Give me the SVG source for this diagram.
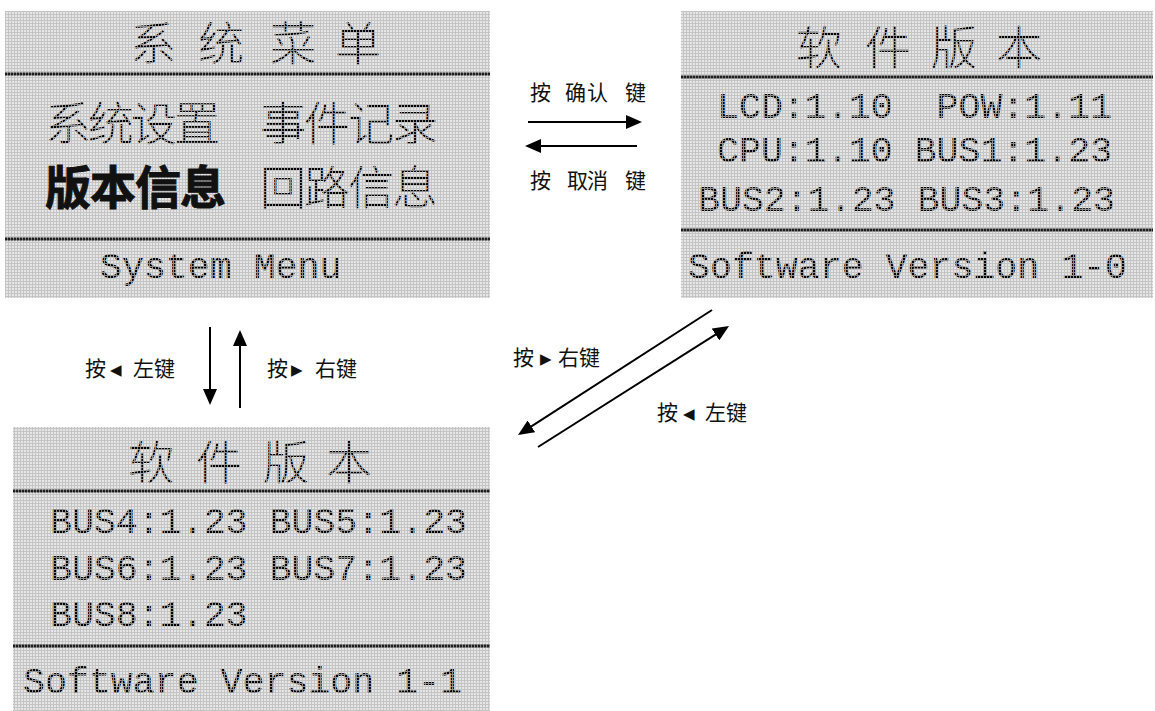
<svg xmlns="http://www.w3.org/2000/svg" width="1155" height="711" viewBox="0 0 1155 711">
<defs>
<pattern id="lcd" x="0" y="0" width="3" height="3" patternUnits="userSpaceOnUse">
<rect width="3" height="3" fill="#e6e6e6"/>
<rect x="2" width="1" height="3" fill="#c4c4c4"/>
<rect y="2" width="3" height="1" fill="#c4c4c4"/>
</pattern>
<pattern id="dots" x="0" y="0" width="3" height="3" patternUnits="userSpaceOnUse">
<rect width="3" height="3" fill="#8a8a8a"/>
<rect width="2" height="2" fill="#000"/>
</pattern>
<marker id="ah" viewBox="0 0 16 14" refX="13" refY="7" markerWidth="16" markerHeight="14" markerUnits="userSpaceOnUse" orient="auto">
<path d="M0,0 L16,7 L0,14 z" fill="#000"/>
</marker>
</defs>
<style>
.panel{fill:url(#lcd)}
.sep{stroke:#1e1e1e;stroke-width:3;stroke-dasharray:2.5 0.5}
.cjk{font-family:"Noto Sans CJK SC",sans-serif;font-size:46px;font-weight:300;fill:url(#dots)}
.hl{font-weight:bold;fill:#111;stroke:#111;stroke-width:1}
.mono{font-family:"Liberation Mono",monospace;font-size:36.6px;fill:url(#dots)}
.lbl{font-family:"Noto Sans CJK SC",sans-serif;font-size:21px;fill:#111}
.tri{font-family:"DejaVu Sans",sans-serif;font-size:15px}
.conn{stroke:#000;stroke-width:2;fill:none;marker-end:url(#ah)}
</style>
<rect width="1155" height="711" fill="#fff"/>

<g id="panel-system-menu">
<rect class="panel" x="5" y="11" width="485" height="287"/>
<text class="cjk" x="130 198 270 335" y="60">系统菜单</text>
<line class="sep" x1="5" y1="74" x2="490" y2="74"/>
<text class="cjk" x="45 88 131 174" y="140">系统设置</text>
<text class="cjk" x="260 304 348 392" y="140">事件记录</text>
<text class="cjk hl" x="45 90 135 180" y="204">版本信息</text>
<text class="cjk" x="260 304 348 392" y="204">回路信息</text>
<line class="sep" x1="5" y1="239" x2="490" y2="239"/>
<text class="mono" x="100" y="278">System Menu</text>
</g>

<g id="panel-software-version-1-0">
<rect class="panel" x="681" y="11" width="472" height="287"/>
<text class="cjk" x="796 865 931 996" y="64">软件版本</text>
<line class="sep" x1="681" y1="77" x2="1153" y2="77"/>
<text class="mono" x="717" y="118" xml:space="preserve">LCD:1.10  POW:1.11</text>
<text class="mono" x="717" y="162">CPU:1.10 BUS1:1.23</text>
<text class="mono" x="698" y="211">BUS2:1.23 BUS3:1.23</text>
<line class="sep" x1="681" y1="230" x2="1153" y2="230"/>
<text class="mono" x="688" y="278">Software Version 1-0</text>
</g>

<g id="panel-software-version-1-1">
<rect class="panel" x="13" y="427" width="477" height="284"/>
<text class="cjk" x="128 196 263 326" y="479">软件版本</text>
<line class="sep" x1="13" y1="491" x2="490" y2="491"/>
<text class="mono" x="50" y="533">BUS4:1.23 BUS5:1.23</text>
<text class="mono" x="50" y="580">BUS6:1.23 BUS7:1.23</text>
<text class="mono" x="50" y="626">BUS8:1.23</text>
<line class="sep" x1="13" y1="646" x2="490" y2="646"/>
<text class="mono" x="23" y="693">Software Version 1-1</text>
</g>

<g id="connectors">
<line class="conn" x1="528" y1="122" x2="639" y2="122"/>
<line class="conn" x1="637" y1="146" x2="528" y2="146"/>
<line class="conn" x1="210" y1="327" x2="210" y2="402"/>
<line class="conn" x1="240" y1="408" x2="240" y2="333"/>
<line class="conn" x1="712" y1="310" x2="520.5" y2="433.4"/>
<line class="conn" x1="538" y1="447" x2="726.5" y2="327.6"/>
</g>

<g id="labels">
<text class="lbl" x="530 565 587 625" y="100">按确认键</text>
<text class="lbl" x="530 567 587 625" y="188">按取消键</text>
<text class="lbl" y="376"><tspan x="85">按</tspan><tspan class="tri" x="110" dy="-1">◀</tspan><tspan x="133" dy="1">左键</tspan></text>
<text class="lbl" y="376"><tspan x="267">按</tspan><tspan class="tri" x="291" dy="-1">▶</tspan><tspan x="315" dy="1">右键</tspan></text>
<text class="lbl" y="365"><tspan x="513">按</tspan><tspan class="tri" x="540" dy="-1">▶</tspan><tspan x="558" dy="1">右键</tspan></text>
<text class="lbl" y="420"><tspan x="657">按</tspan><tspan class="tri" x="683" dy="-1">◀</tspan><tspan x="705" dy="1">左键</tspan></text>
</g>
</svg>
